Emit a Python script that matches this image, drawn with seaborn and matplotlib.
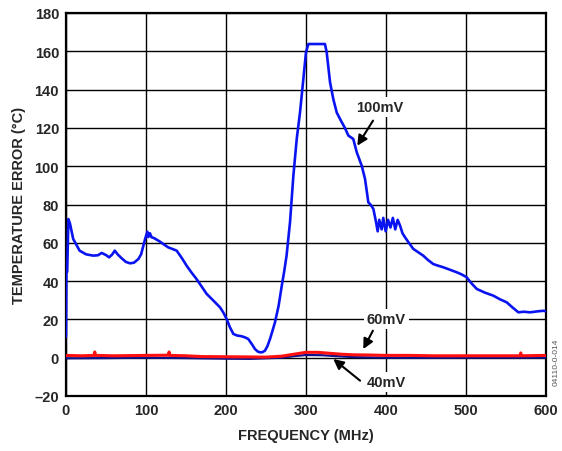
import matplotlib
matplotlib.use("Agg")
import matplotlib.pyplot as plt
import seaborn as sns
import pandas as pd

# 100mV series (blue)
freq_100 = [0, 0.5, 1.5, 3, 5, 9, 17, 25, 34, 40, 44.6, 50, 54, 58, 61, 65, 69.7, 75, 80, 85, 90.5, 94, 96.8,
            99, 101.8, 103, 105, 107, 110, 117.6, 123, 128, 133, 138.5, 145, 151, 157, 163.5, 170, 176, 184,
            192.7, 197, 201, 205, 209.4, 214, 219.8, 224, 228, 232.4, 236.5, 240, 242.8, 246, 249, 252, 255.3,
            258, 261.5, 266, 270, 273, 276, 280.3, 284.5, 288.7, 292.8, 297, 300.3, 303.3, 314, 324, 326.2,
            330.4, 334.5, 338.8, 345, 349, 353.3, 359.5, 363.8, 370, 374.2, 378.3, 381, 384.6, 388, 390, 392,
            395, 397, 400, 403, 406, 409, 412, 415, 418, 421, 424.2, 429, 434.6, 441, 447, 453, 459.6, 466,
            472.2, 480, 489, 495, 501.4, 507, 514, 524, 534.7, 543, 551.5, 558, 566, 573, 580.7, 590, 597.3, 600]
temp_100 = [11, 44, 45, 72.4, 70, 62, 55.9, 54, 53.3, 53.5, 54.7, 53.6, 52.4, 54, 55.9, 53.8, 51.9, 50, 49.3, 49.6, 51.5, 54, 58.5,
            62, 65.8, 63, 65, 62.9, 62.5, 60.6, 59, 57.6, 56.8, 55.9, 52, 48, 44.5, 41, 37, 33.3, 30,
            26.3, 23.5, 20.2, 16, 12.4, 11.6, 11.2, 10.6, 9.8, 7.2, 4.5, 3.2, 2.8, 2.9, 3.7, 6, 9.8,
            13.5, 18.5, 27, 37.6, 45, 53.3, 70.7, 95, 114.2, 128, 145.5, 159.5, 163.8, 163.8, 163.8, 159.5,
            143.8, 135, 128, 123, 120, 116, 114.2, 107.3, 100.3, 93.3, 81.1, 80, 77.7, 70.7, 66, 72,
            67, 73, 66, 72, 68, 73, 67, 72, 69, 65, 62.9, 60, 56.8, 55, 53.3, 51, 48.9, 48,
            47.2, 46, 44.6, 43.5, 42, 39, 35.9, 34, 32.4, 30.5, 28.9, 26.5, 23.7, 24, 23.7, 24.2, 24.5, 24.3]

# 60mV series (red)
freq_60 = [0, 20, 35, 36, 37, 60, 100, 128, 129, 130, 150, 170, 200, 230, 250, 270, 285, 300, 315, 330, 345,
           360, 380, 400, 430, 460, 500, 530, 560, 568, 569, 570, 600]
temp_60 = [1.2, 1.0, 1.2, 3.0, 1.2, 1.0, 1.2, 1.3, 3.0, 1.2, 1.0, 0.6, 0.5, 0.4, 0.3, 0.8, 1.8, 2.8, 2.8, 2.3, 1.8,
           1.5, 1.4, 1.2, 1.2, 1.0, 1.0, 1.0, 1.0, 1.0, 2.5, 1.0, 1.2]

# 40mV series (dark blue)
freq_40 = [0, 50, 100, 150, 200, 230, 250, 270, 285, 300, 320, 340, 360, 400, 450, 500, 550, 600]
temp_40 = [-0.3, -0.2, 0.0, -0.2, -0.5, -0.6, -0.3, 0.0, 0.8, 1.4, 1.3, 0.8, 0.3, 0.0, -0.1, 0.0, 0.0, 0.0]

xticks = [0, 100, 200, 300, 400, 500, 600]
yticks = [-20, 0, 20, 40, 60, 80, 100, 120, 140, 160, 180]
ytick_labels = ["\u201320", "0", "20", "40", "60", "80", "100", "120", "140", "160", "180"]

sns.set_style("white")
plt.rcParams["font.family"] = ["Liberation Sans", "DejaVu Sans"]

fig = plt.figure(figsize=(5.62, 4.52), dpi=100)
ax = fig.add_axes([66 / 562, 1 - 397 / 452, (545.5 - 66) / 562, (397 - 14) / 452])

df100 = pd.DataFrame({"f": freq_100, "t": temp_100})
df60 = pd.DataFrame({"f": freq_60, "t": temp_60})
df40 = pd.DataFrame({"f": freq_40, "t": temp_40})

sns.lineplot(data=df100, x="f", y="t", ax=ax, color="#0a14f0", lw=1.9, estimator=None, sort=False, zorder=3)
sns.lineplot(data=df40, x="f", y="t", ax=ax, color="#10108a", lw=1.6, estimator=None, sort=False, zorder=4)
sns.lineplot(data=df60, x="f", y="t", ax=ax, color="#ff1010", lw=2.2, estimator=None, sort=False, zorder=5)

ax.set_xlim(0, 600)
ax.set_ylim(-20, 180)
ax.set_xticks(xticks)
ax.set_xticklabels([str(v) for v in xticks])
ax.set_yticks(yticks)
ax.set_yticklabels(ytick_labels)
ax.grid(True, color="black", lw=1.0)
ax.set_axisbelow(True)
for s in ax.spines.values():
    s.set_color("black")
    s.set_linewidth(1.6)
ax.tick_params(length=0, pad=5, labelsize=10.5)
for lab in ax.get_xticklabels() + ax.get_yticklabels():
    lab.set_fontweight("bold")

ax.set_xlabel("FREQUENCY (MHz)", fontsize=10.5, fontweight="bold", labelpad=8)
ax.set_ylabel("TEMPERATURE ERROR (\u00b0C)", fontsize=10.5, fontweight="bold", labelpad=6)

box = dict(facecolor="white", edgecolor="none", pad=2)
arrow = dict(arrowstyle="-|>,head_length=0.6,head_width=0.3", color="black", lw=1.5, shrinkA=0, shrinkB=0)
ax.annotate("", xy=(364.5, 110.7), xytext=(384.2, 123.8), arrowprops=arrow, zorder=6)
ax.text(392, 131, "100mV", ha="center", va="center", fontsize=10.5, fontweight="bold", bbox=box, zorder=6)
ax.annotate("", xy=(372, 4.5), xytext=(384, 14.1), arrowprops=arrow, zorder=6)
ax.text(401, 20.2, "60mV", ha="center", va="center", fontsize=10.5, fontweight="bold", bbox=box, zorder=6)
ax.annotate("", xy=(334.5, -0.7), xytext=(368, -12), arrowprops=arrow, zorder=6)
ax.text(401, -12.8, "40mV", ha="center", va="center", fontsize=10.5, fontweight="bold", bbox=box, zorder=6)

fig.text(556 / 562, 1 - 362 / 452, "04110-0-014", rotation=90, fontsize=6, color="#555555",
         ha="center", va="center")

fig.savefig("out.png", dpi=100)
